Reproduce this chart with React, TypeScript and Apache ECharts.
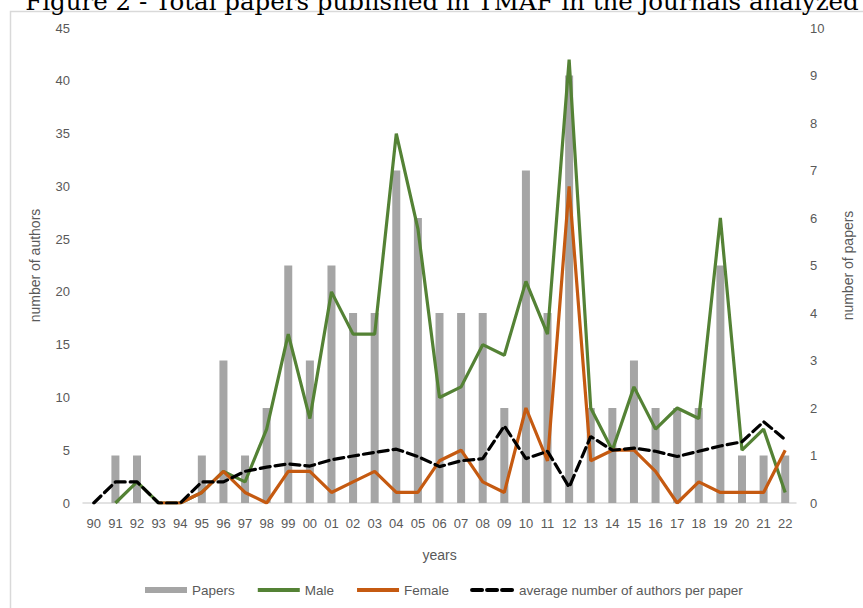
import React, { useEffect, useRef } from "react";
import * as echarts from "echarts";

const years = ["90","91","92","93","94","95","96","97","98","99","00","01","02","03","04","05","06","07","08","09","10","11","12","13","14","15","16","17","18","19","20","21","22"];
const papers = [0,1,1,0,0,1,3,1,2,5,3,5,4,4,7,6,4,4,4,2,7,4,9,2,2,3,2,2,2,5,1,1,1];
const male = [null,0,2,0,0,1,3,2,7,16,8,20,16,16,35,26,10,11,15,14,21,16,42,9,5,11,7,9,8,27,5,7,1];
const female = [null,null,null,0,0,1,3,1,0,3,3,1,2,3,1,1,4,5,2,1,9,4,30,4,5,5,3,0,2,1,1,1,5];
const avgAuthors = [0,2,2,0,0,2,2,3,3.4,3.7,3.5,4.1,4.45,4.8,5.1,4.4,3.45,4,4.2,7.3,4.2,4.9,1.5,6.3,5,5.2,4.9,4.4,4.9,5.4,5.8,7.7,6];
const leftTicks = { min: 0, max: 45, interval: 5 };
const rightTicks = { min: 0, max: 10, interval: 1 };
const titleText = "Figure 2 - Total papers published in TMAF in the journals analyzed";

const FONT = "'Liberation Sans', Arial, sans-serif";
const LABEL = "#595959";

export default function App() {
  const ref = useRef<HTMLDivElement>(null);
  useEffect(() => {
    document.body.style.margin = "0";
    const chart = echarts.init(ref.current!, null, { renderer: "svg" });
    chart.setOption({
      animation: false,
      textStyle: { fontFamily: FONT },
      graphic: [
        {
          type: "rect",
          z: -10,
          shape: { x: 10.5, y: 11.5, width: 900, height: 700 },
          style: { fill: "none", stroke: "#d9d9d9", lineWidth: 1.5 },
        },
        {
          type: "text",
          x: 442,
          y: 14,
          style: {
            text: titleText,
            font: "24.5px 'DejaVu Serif', serif",
            fill: "#000",
            align: "center",
            verticalAlign: "bottom",
          },
        },
      ],
      grid: { left: 83, right: 60, top: 28, bottom: 105, containLabel: false },
      legend: {
        bottom: 6,
        left: 140,
        itemWidth: 42,
        itemHeight: 6,
        itemGap: 21,
        textStyle: { color: LABEL, fontSize: 13.5, fontFamily: FONT },
        data: [
          { name: "Papers", icon: "rect" },
          { name: "Male", itemStyle: { opacity: 0 }, lineStyle: { width: 4 } },
          { name: "Female", itemStyle: { opacity: 0 }, lineStyle: { width: 4 } },
          { name: "average number of authors per paper", itemStyle: { opacity: 0 }, lineStyle: { width: 4 } },
        ],
      },
      xAxis: {
        type: "category",
        data: years,
        boundaryGap: true,
        name: "years",
        nameLocation: "middle",
        nameGap: 45,
        nameTextStyle: { color: LABEL, fontSize: 14, fontFamily: FONT },
        axisLine: { lineStyle: { color: "#d9d9d9", width: 1.5 } },
        axisTick: { show: false },
        axisLabel: { color: LABEL, fontSize: 13, margin: 14, interval: 0 },
      },
      yAxis: [
        {
          type: "value",
          ...leftTicks,
          name: "number of authors",
          nameLocation: "middle",
          nameGap: 41,
          nameTextStyle: { color: LABEL, fontSize: 14, fontFamily: FONT },
          axisLine: { show: false },
          axisTick: { show: false },
          splitLine: { show: false },
          axisLabel: { color: LABEL, fontSize: 13, margin: 13 },
        },
        {
          type: "value",
          ...rightTicks,
          name: "number of papers",
          nameLocation: "middle",
          nameGap: 45,
          nameRotate: 90,
          nameTextStyle: { color: LABEL, fontSize: 14, fontFamily: FONT },
          axisLine: { show: false },
          axisTick: { show: false },
          splitLine: { show: false },
          axisLabel: { color: LABEL, fontSize: 13, margin: 14 },
        },
      ],
      series: [
        {
          name: "Papers",
          type: "bar",
          yAxisIndex: 1,
          data: papers,
          barWidth: 8,
          itemStyle: { color: "#a5a5a5" },
        },
        {
          name: "Male",
          type: "line",
          data: male,
          symbol: "none",
          lineStyle: { color: "#548235", width: 3.2 },
          itemStyle: { color: "#548235" },
        },
        {
          name: "Female",
          type: "line",
          data: female,
          symbol: "none",
          lineStyle: { color: "#c55a11", width: 3.2 },
          itemStyle: { color: "#c55a11" },
        },
        {
          name: "average number of authors per paper",
          type: "line",
          data: avgAuthors,
          symbol: "none",
          lineStyle: { color: "#000", width: 3.2, type: [10, 5], cap: "round" },
          itemStyle: { color: "#000" },
        },
      ],
    });
    return () => chart.dispose();
  }, []);
  return <div ref={ref} style={{ width: 863, height: 608 }} />;
}
